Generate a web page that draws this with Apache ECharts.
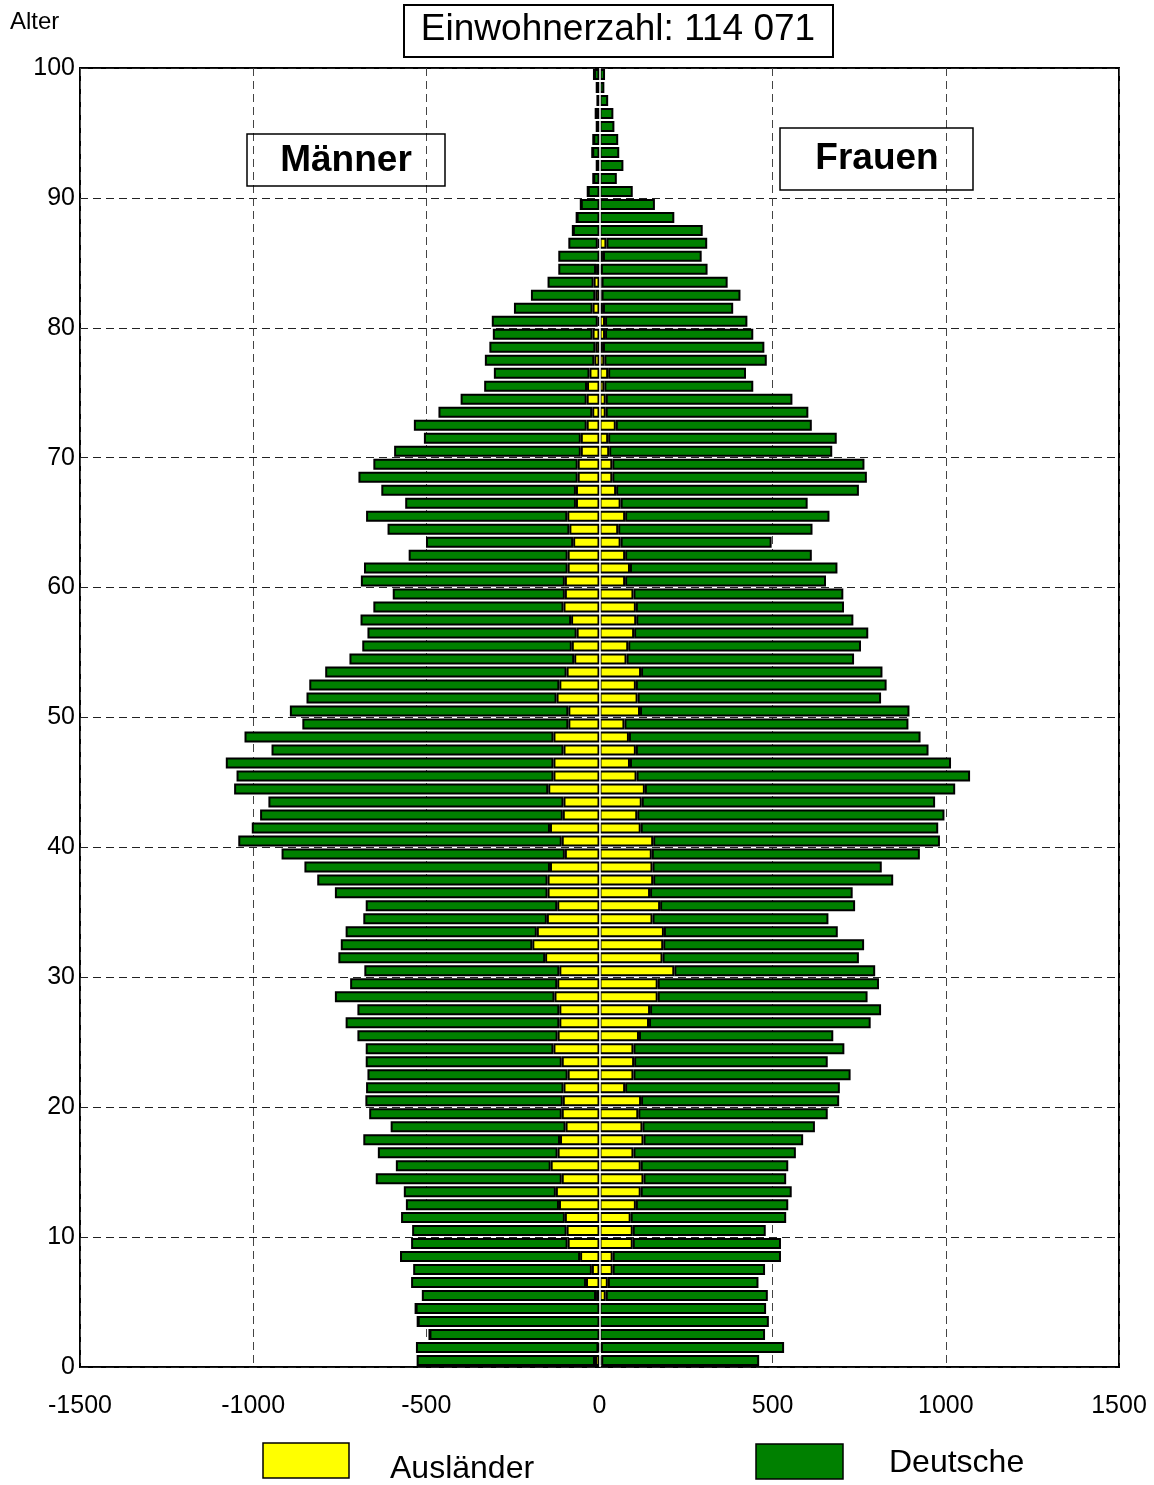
<!DOCTYPE html>
<html><head><meta charset="utf-8">
<script src="https://cdn.jsdelivr.net/npm/echarts@6/dist/echarts.min.js"></script>
<style>html,body{margin:0;padding:0;background:#fff}#c{width:1154px;height:1485px}</style>
</head><body><div id="c"></div>
<script>
// Age groups 0..99 (index = age)
const ages = Array.from({length:100}, (_, i) => String(i));

// Männer: total and Ausländer
const maleTotal = [528,530,491,525,531,513,544,538,576,544,
  541,573,559,565,646,588,640,682,603,665,
  676,674,670,675,675,699,733,699,764,720,
  679,754,747,733,682,675,764,815,852,918,
  1043,1004,980,956,1055,1048,1079,947,1025,858,
  894,846,838,792,722,685,670,690,653,597,
  689,680,551,501,612,674,561,630,696,653,
  593,507,536,465,401,333,305,331,318,308,
  311,247,198,150,119,119,90,77,66,54,
  34,18,8,21,18,8,11,6,8,16];
const maleForeign = [13,3,0,0,0,10,39,22,56,92,
  95,100,117,126,109,141,121,114,98,109,
  106,104,92,109,133,121,116,116,130,122,
  116,157,194,181,152,122,150,150,143,100,
  109,143,106,104,148,133,133,104,133,90,
  90,124,116,95,73,80,66,82,104,100,
  100,92,92,76,87,93,68,68,63,63,
  54,54,37,21,37,36,29,15,12,20,
  5,20,12,17,10,0,5,0,0,0,
  0,0,0,0,0,0,0,0,0,0];

// Frauen: total and Ausländerinnen
const femaleTotal = [461,533,478,489,481,486,459,478,524,524,
  480,539,545,555,539,545,567,588,622,659,
  692,694,725,659,707,675,783,813,774,807,
  796,749,764,688,661,738,731,848,815,925,
  983,978,996,969,1027,1070,1015,950,927,892,
  895,813,829,817,735,755,776,733,706,704,
  654,687,613,497,615,664,601,749,772,765,
  672,685,613,603,557,444,423,483,476,444,
  427,386,407,370,312,295,311,298,216,160,
  96,50,69,57,54,43,40,25,14,16];
const femaleForeign = [5,4,0,0,0,18,24,38,38,96,
  96,90,105,119,127,119,98,127,124,112,
  120,74,98,100,98,114,143,146,168,168,
  216,182,184,186,153,175,146,155,153,151,
  155,119,109,122,131,107,88,105,85,72,
  117,110,105,120,78,83,100,106,105,98,
  74,88,74,61,54,74,61,48,37,37,
  28,25,47,18,18,14,25,14,10,16,
  16,10,6,6,4,10,20,0,0,0,
  0,0,0,0,0,0,0,0,0,0];

const xTicks = [-1500,-1000,-500,0,500,1000,1500];
const yTicks = [0,10,20,30,40,50,60,70,80,90,100];

const YELLOW = '#ffff00', GREEN = '#008000';
const FONT = 'Liberation Sans, Arial, sans-serif';

const maleGerman = maleTotal.map((t, i) => -(t - maleForeign[i]));
const maleForeignNeg = maleForeign.map(v => -v);
const femaleGerman = femaleTotal.map((t, i) => t - femaleForeign[i]);

const barStyle = (c) => ({color: c, borderColor: '#000', borderWidth: 2});
const BW = 11;

const chart = echarts.init(document.getElementById('c'), null, {renderer: 'canvas'});
chart.setOption({
  animation: false,
  backgroundColor: '#fff',
  grid: {left: 80, right: 35, top: 68, bottom: 118, show: true, borderColor: '#000', borderWidth: 2, backgroundColor: 'transparent'},
  xAxis: {
    type: 'value', min: xTicks[0], max: xTicks[xTicks.length-1], interval: 500,
    axisLine: {show: false}, axisTick: {show: false},
    axisLabel: {fontSize: 25, color: '#000', margin: 27, fontFamily: FONT, formatter: v => String(v)},
    splitLine: {show: true, lineStyle: {type: [8, 5], width: 1,
      color: xTicks.map(v => (v === 0 ? 'rgba(0,0,0,0)' : '#444'))}}
  },
  yAxis: [
    {type: 'category', data: ages, show: false, boundaryGap: true},
    {type: 'value', min: yTicks[0], max: yTicks[yTicks.length-1], interval: 10, position: 'left',
     axisLine: {show: false}, axisTick: {show: false},
     axisLabel: {fontSize: 25, color: '#000', margin: 5, fontFamily: FONT},
     splitLine: {show: true, lineStyle: {type: [8, 5], width: 1, color: '#222'}}}
  ],
  series: [
    {name: 'Ausländer', type: 'bar', stack: 'all', yAxisIndex: 0, barWidth: BW, data: maleForeignNeg, itemStyle: barStyle(YELLOW)},
    {name: 'Deutsche', type: 'bar', stack: 'all', yAxisIndex: 0, barWidth: BW, data: maleGerman, itemStyle: barStyle(GREEN)},
    {name: 'Ausländer', type: 'bar', stack: 'all', yAxisIndex: 0, barWidth: BW, data: femaleForeign, itemStyle: barStyle(YELLOW)},
    {name: 'Deutsche', type: 'bar', stack: 'all', yAxisIndex: 0, barWidth: BW, data: femaleGerman, itemStyle: barStyle(GREEN),
     markLine: {silent: true, symbol: 'none', label: {show: false}, lineStyle: {color: '#fff', width: 1.5, type: 'solid'}, data: [{xAxis: 0}]}}
  ],
  graphic: [
    {type: 'text', left: 10, top: 10, style: {text: 'Alter', font: '24px ' + FONT, fill: '#000'}},
    {type: 'rect', shape: {x: 404, y: 5, width: 429, height: 52}, style: {fill: '#fff', stroke: '#000', lineWidth: 2}},
    {type: 'text', x: 618, y: 30, style: {text: 'Einwohnerzahl: 114 071', font: '37px ' + FONT, fill: '#000', align: 'center', verticalAlign: 'middle'}},
    {type: 'rect', z: 10, shape: {x: 247, y: 134, width: 198, height: 52}, style: {fill: 'transparent', stroke: '#000', lineWidth: 1.5}},
    {type: 'text', z: 10, x: 346, y: 161, style: {text: 'Männer', font: 'bold 37px ' + FONT, fill: '#000', align: 'center', verticalAlign: 'middle'}},
    {type: 'rect', z: 10, shape: {x: 780, y: 128, width: 193, height: 62}, style: {fill: 'transparent', stroke: '#000', lineWidth: 1.5}},
    {type: 'text', z: 10, x: 877, y: 159, style: {text: 'Frauen', font: 'bold 37px ' + FONT, fill: '#000', align: 'center', verticalAlign: 'middle'}},
    {type: 'rect', shape: {x: 263, y: 1443, width: 86, height: 35}, style: {fill: YELLOW, stroke: '#000', lineWidth: 1.5}},
    {type: 'text', x: 390, y: 1469, style: {text: 'Ausländer', font: '32px ' + FONT, fill: '#000', align: 'left', verticalAlign: 'middle'}},
    {type: 'rect', shape: {x: 756, y: 1444, width: 87, height: 35}, style: {fill: GREEN, stroke: '#000', lineWidth: 1.5}},
    {type: 'text', x: 889, y: 1463, style: {text: 'Deutsche', font: '32px ' + FONT, fill: '#000', align: 'left', verticalAlign: 'middle'}}
  ]
});
</script></body></html>
